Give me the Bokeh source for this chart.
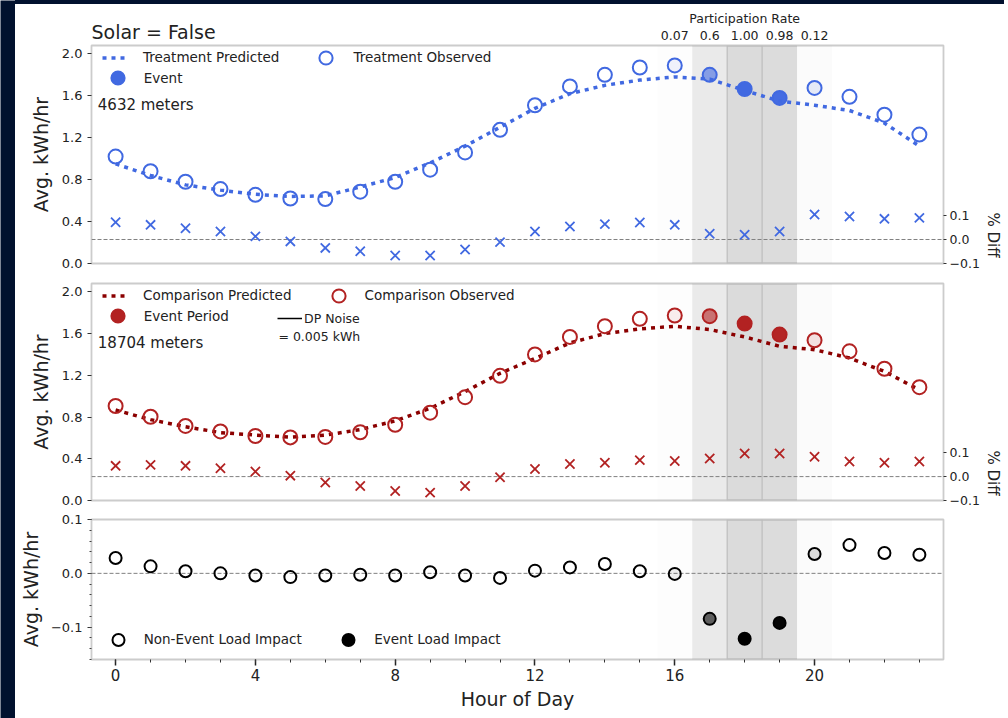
import numpy as np
from bokeh.plotting import figure
from bokeh.layouts import column, row
from bokeh.models import (Range1d, LinearAxis, FixedTicker, CustomJSTickFormatter, Span,
                          BoxAnnotation, Legend, LegendItem, Label, ColumnDataSource,
                          GlobalInlineStyleSheet, Div, Title)
from bokeh.core.properties import value
from bokeh.embed import file_html
from bokeh.resources import INLINE

# ---------------- data ----------------
hours = list(range(24))
treat_pred = [0.95, 0.84, 0.75, 0.70, 0.66, 0.64, 0.645, 0.73, 0.82, 0.96, 1.12, 1.30,
              1.48, 1.62, 1.70, 1.75, 1.78, 1.76, 1.65, 1.55, 1.51, 1.46, 1.34, 1.12]
treat_obs = [1.02, 0.88, 0.78, 0.71, 0.655, 0.62, 0.615, 0.685, 0.78, 0.895, 1.06, 1.275,
             1.51, 1.69, 1.80, 1.87, 1.89, 1.80, 1.665, 1.58, 1.675, 1.59, 1.42, 1.23]
treat_diff = [0.072, 0.061, 0.047, 0.033, 0.013, -0.008, -0.035, -0.049, -0.067, -0.067, -0.042, -0.011,
              0.033, 0.054, 0.064, 0.071, 0.061, 0.024, 0.020, 0.033, 0.104, 0.096, 0.086, 0.090]
comp_pred = [0.867, 0.775, 0.707, 0.651, 0.627, 0.607, 0.626, 0.68, 0.763, 0.884, 1.044, 1.219,
             1.361, 1.51, 1.60, 1.645, 1.67, 1.639, 1.568, 1.478, 1.446, 1.366, 1.237, 1.06]
comp_obs = [0.906, 0.803, 0.715, 0.662, 0.618, 0.605, 0.609, 0.654, 0.726, 0.842, 0.99, 1.195,
            1.40, 1.568, 1.671, 1.741, 1.773, 1.767, 1.696, 1.59, 1.536, 1.43, 1.263, 1.086]
comp_diff = [0.045, 0.049, 0.045, 0.035, 0.021, 0.004, -0.025, -0.039, -0.06, -0.067, -0.039, -0.003,
             0.032, 0.053, 0.058, 0.069, 0.065, 0.076, 0.097, 0.097, 0.083, 0.063, 0.058, 0.063]
impact = [0.0285, 0.013, 0.004, 0.0, -0.004, -0.007, -0.004, -0.0025, -0.004, 0.002, -0.004, -0.0085,
          0.005, 0.011, 0.0173, 0.004, -0.001, -0.0845, -0.1215, -0.092, 0.036, 0.0525, 0.0377, 0.0346]
rate_hours = [16, 17, 18, 19, 20]
rates = [0.07, 0.6, 1.00, 0.98, 0.12]
rate_labels = ["0.07", "0.6", "1.00", "0.98", "0.12"]
dp_noise = 0.005
treat_meters = "4632 meters"
comp_meters = "18704 meters"
x_major_ticks = [0, 4, 8, 12, 16, 20]
y_ticks = [0.0, 0.4, 0.8, 1.2, 1.6, 2.0]
diff_ticks = [-0.1, 0.0, 0.1]

# ---------------- style ----------------
FONT = "DejaVu Sans"
BLUE = "#4169e1"
RED = "#b22222"
DARKRED = "#8b0000"
NAVY = "#01112e"
TXT = "#222222"
W = 989
ML, MR = 76, 60
FRAME_LEFT_PAGE = 91

rate_of = dict(zip(rate_hours, rates))
fill_alpha = [rate_of.get(h, 0.0) for h in hours]
event_index = rates.index(max(rates)) + rate_hours[0]

x_range = Range1d(-0.69, 23.69)
minus_fmt = CustomJSTickFormatter(code="return tick.toFixed(1).replace('-', '\u2212');")


def base_fig(height, y_range, top, bottom, xaxis=True):
    p = figure(width=W, height=height, x_range=x_range, y_range=y_range,
               output_backend="svg", toolbar_location=None,
               x_axis_location="below" if xaxis else None,
               min_border_left=ML, min_border_right=MR,
               min_border_top=top, min_border_bottom=bottom)
    p.grid.visible = False
    p.outline_line_color = "#cccccc"
    p.outline_line_width = 1.8
    p.background_fill_color = "white"
    p.border_fill_color = "white"
    return p


def style_axis(ax, tick_size="13px"):
    ax.axis_line_color = None
    ax.major_tick_line_color = "#333333"
    ax.major_tick_in = 0
    ax.major_tick_out = 4
    ax.minor_tick_line_color = None
    ax.major_label_text_font = FONT
    ax.major_label_text_font_size = tick_size
    ax.major_label_text_color = TXT
    ax.major_label_standoff = 5
    ax.axis_label_text_font = FONT
    ax.axis_label_text_font_style = "normal"
    ax.axis_label_text_color = TXT
    ax.axis_label_text_font_size = "19px"
    ax.axis_label_standoff = 7


def add_bands(p):
    for h, r in zip(rate_hours, rates):
        p.add_layout(BoxAnnotation(left=h - 0.5, right=h + 0.5, fill_color="black",
                                   fill_alpha=0.14 * r, line_alpha=0, level="underlay"))
    top_rate = max(rates)
    for h, r in zip(rate_hours, rates):
        if r == top_rate:
            for edge in (h - 0.5, h + 0.5):
                p.add_layout(Span(location=edge, dimension="height", line_color="#bdbdbd",
                                  line_width=1.2, level="underlay"))


def legend_at(p, label, renderer, index, cx, cy, text_x, frame_top, frame_h, gw,
              gh=33, size="13.5px"):
    x = cx - gw / 2 - FRAME_LEFT_PAGE
    bottom = frame_h - (cy - frame_top) - gh / 2
    lg = Legend(items=[LegendItem(label=label, renderers=[renderer], index=index)],
                location=(x, bottom), orientation="vertical",
                glyph_width=gw, glyph_height=gh, label_height=gh, spacing=0,
                padding=0, margin=0, label_standoff=int(round(text_x - (cx + gw / 2))),
                border_line_color=None, background_fill_alpha=0, click_policy="none",
                label_text_font=FONT, label_text_font_size=size, label_text_color=TXT)
    p.add_layout(lg)


def load_panel(height, top, bottom, frame_top, frame_h, pred, obs, diff, pred_color, obs_color,
               names, obs_cx, obs_tx, meters, diff_title_offset):
    p = base_fig(height, Range1d(0, 2.08), top, bottom, xaxis=False)
    p.extra_y_ranges = {"diff": Range1d(-0.1, 0.808)}
    add_bands(p)
    p.add_layout(Span(location=0, dimension="width", y_range_name="diff", line_color="#808080",
                      line_width=1, line_dash="4 2", level="underlay"))
    src = ColumnDataSource(dict(h=hours, pred=pred, obs=obs, diff=diff, fa=fill_alpha))
    rp = p.line("h", "pred", source=src, line_color=pred_color, line_width=3.5,
                line_dash="4 5", line_cap="butt")
    ro = p.scatter("h", "obs", source=src, marker="circle", size=14, line_color=obs_color,
                   line_width=2, fill_color=obs_color, fill_alpha="fa")
    p.scatter("h", "diff", source=src, marker="x", size=13, line_color=obs_color,
              line_width=1.8, y_range_name="diff")

    ly = p.yaxis[0]
    ly.ticker = FixedTicker(ticks=y_ticks)
    ly.formatter = CustomJSTickFormatter(code="return tick.toFixed(1);")
    ly.axis_label = "Avg. kWh/hr"
    style_axis(ly)
    ry = LinearAxis(y_range_name="diff", ticker=FixedTicker(ticks=diff_ticks),
                    formatter=minus_fmt)
    style_axis(ry, tick_size="12.5px")
    ry.major_tick_out = 3
    ry.major_label_standoff = 3
    p.add_layout(ry, "right")
    # right-hand axis title, aligned to the bottom beside the % Diff ticks as in the original
    p.add_layout(Title(text="% Diff", align="right", offset=diff_title_offset, standoff=2,
                       text_font=FONT, text_font_size="15px", text_font_style="normal",
                       text_color=TXT), "right")

    legend_at(p, names[0], rp, None, 115, frame_top + 12.3, 143.3, frame_top, frame_h, 26)
    legend_at(p, names[1], ro, 0, obs_cx, frame_top + 12.3, obs_tx, frame_top, frame_h, 33)
    legend_at(p, names[2], ro, event_index, 117.3, frame_top + 32.5, 143.3, frame_top, frame_h, 33)
    p.add_layout(Label(x=-0.51, y=1.51, text=meters, text_font=FONT, text_font_size="15px",
                       text_color=TXT, text_baseline="middle", text_align="left"))
    return p, src


# ---------------- header ----------------
hdr = figure(width=W, height=39, x_range=x_range, y_range=Range1d(39, 0),
             output_backend="svg", toolbar_location=None,
             x_axis_location=None, y_axis_location=None,
             min_border_left=ML, min_border_right=MR, min_border_top=0, min_border_bottom=0)
hdr.outline_line_color = None
hdr.border_fill_color = "white"
hdr.grid.visible = False
hdr.text(x=[x_range.start], y=[27], text=["Solar = False"], text_font=value(FONT),
         text_font_size="19px", text_color=TXT, text_align="left", text_baseline="middle")
hdr.text(x=[float(np.mean(rate_hours))], y=[14], text=["Participation Rate"], text_font=value(FONT),
         text_font_size="12.5px", text_color=TXT, text_align="center", text_baseline="middle")
hdr.text(x=rate_hours, y=[31] * len(rate_hours), text=rate_labels, text_font=value(FONT),
         text_font_size="12.5px", text_color=TXT, text_align="center", text_baseline="middle")

# ---------------- panels 1 & 2 ----------------
p1, s1 = load_panel(230, 2, 10, 45, 218, treat_pred, treat_obs, treat_diff, BLUE, BLUE,
                    ["Treatment Predicted", "Treatment Observed", "Event"], 325, 353,
                    treat_meters, 6)
p2, s2 = load_panel(236, 10, 9, 283, 217, comp_pred, comp_obs, comp_diff, DARKRED, RED,
                    ["Comparison Predicted", "Comparison Observed", "Event Period"], 338, 365,
                    comp_meters, 5)
s2.data["lo"] = [v - dp_noise for v in comp_obs]
s2.data["hi"] = [v + dp_noise for v in comp_obs]
dp = p2.segment("h", "lo", "h", "hi", source=s2, line_color="black", line_width=1.5,
                visible=False)
legend_at(p2, "DP Noise", dp, 0, 289.5, 318, 304, 283, 217, 25, gh=26, size="12.5px")
p2.add_layout(Label(x=4.66, y=1.574, text="= 0.005 kWh", text_font=FONT, text_font_size="12.5px",
                    text_color=TXT, text_baseline="middle", text_align="left"))

# ---------------- panel 3 ----------------
p3 = base_fig(209, Range1d(-0.16, 0.1), 10, 59)
add_bands(p3)
p3.add_layout(Span(location=0, dimension="width", line_color="#808080", line_width=1,
                   line_dash="4 2", level="underlay"))
src3 = ColumnDataSource(dict(h=hours, v=impact, fa=fill_alpha))
r3 = p3.scatter("h", "v", source=src3, marker="circle", size=12, line_color="black", line_width=2,
                fill_color="black", fill_alpha="fa")
ly3 = p3.yaxis[0]
ly3.ticker = FixedTicker(ticks=diff_ticks,
                         minor_ticks=np.round(np.arange(-0.16, 0.1001, 0.02), 2).tolist())
ly3.formatter = minus_fmt
ly3.axis_label = "Avg. kWh/hr"
style_axis(ly3)
ly3.minor_tick_line_color = "#444444"
ly3.minor_tick_out = 2
ly3.minor_tick_in = 0
ly3.axis_label_standoff = 6
bx = p3.xaxis[0]
bx.ticker = FixedTicker(ticks=x_major_ticks, minor_ticks=hours)
bx.axis_label = "Hour of Day"
style_axis(bx, tick_size="15px")
bx.major_tick_out = 6
bx.major_tick_line_width = 1.5
bx.major_tick_line_color = "#222222"
bx.minor_tick_line_color = "#333333"
bx.minor_tick_out = 3
bx.minor_tick_in = 0
bx.major_label_standoff = 3
bx.axis_label_standoff = 4
legend_at(p3, "Non-Event Load Impact", r3, 0, 117.7, 639.3, 143.3, 519, 140, 30)
legend_at(p3, "Event Load Impact", r3, event_index, 348.3, 639.3, 374, 519, 140, 30)


# ---------------- navy page strips ----------------
def strip(w, h):
    s = figure(width=w, height=h, output_backend="svg", toolbar_location=None,
               x_axis_location=None, y_axis_location=None,
               min_border_left=0, min_border_right=0, min_border_top=0, min_border_bottom=0)
    s.grid.visible = False
    s.outline_line_color = None
    s.background_fill_color = NAVY
    s.border_fill_color = NAVY
    return s


top_strip = Div(text="", width=W, height=4, margin=0,
                styles={"background-color": NAVY, "display": "block"})
left_strip = strip(15, 718)

css = GlobalInlineStyleSheet(css="html, body { background: white !important; margin: 0 !important; "
                                 "padding: 0 !important; overflow: hidden; }")
layout = row(left_strip, column(top_strip, hdr, p1, p2, p3, spacing=0), spacing=0,
             stylesheets=[css])

open("out.html", "w").write(file_html(layout, INLINE))
